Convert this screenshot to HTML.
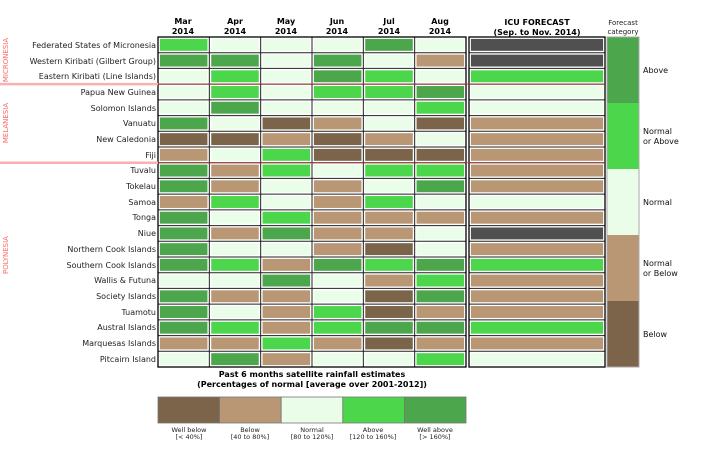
<!DOCTYPE html>
<html><head><meta charset="utf-8"><style>
html,body{margin:0;padding:0;background:#fff;width:710px;height:473px;overflow:hidden}
svg{display:block;font-family:"DejaVu Sans","Liberation Sans",sans-serif}
.rl{font-size:8px;fill:#222;text-anchor:end}
.hd{font-size:8px;font-weight:bold;fill:#000;text-anchor:middle}
.rg{font-size:7px;fill:#f66;text-anchor:middle}
.ct{font-size:8px;fill:#111}
.lg{font-size:6.5px;fill:#222;text-anchor:middle}
</style></head><body>
<svg id="s" width="710" height="473" viewBox="0 0 710 473">
<g id="cells"></g>
<text class="hd" x="183" y="24">Mar</text><text class="hd" x="183" y="34">2014</text>
<text class="hd" x="235" y="24">Apr</text><text class="hd" x="235" y="34">2014</text>
<text class="hd" x="286" y="24">May</text><text class="hd" x="286" y="34">2014</text>
<text class="hd" x="337" y="24">Jun</text><text class="hd" x="337" y="34">2014</text>
<text class="hd" x="389" y="24">Jul</text><text class="hd" x="389" y="34">2014</text>
<text class="hd" x="440" y="24">Aug</text><text class="hd" x="440" y="34">2014</text>
<text class="hd" x="537" y="25">ICU FORECAST</text><text class="hd" x="537" y="35">(Sep. to Nov. 2014)</text>
<text x="623" y="25" style="font-size:7px;text-anchor:middle;fill:#222">Forecast</text>
<text x="623" y="34" style="font-size:7px;text-anchor:middle;fill:#222">category</text>
<text class="rl" x="156" y="48">Federated States of Micronesia</text>
<text class="rl" x="156" y="64">Western Kiribati (Gilbert Group)</text>
<text class="rl" x="156" y="79">Eastern Kiribati (Line Islands)</text>
<text class="rl" x="156" y="95">Papua New Guinea</text>
<text class="rl" x="156" y="111">Solomon Islands</text>
<text class="rl" x="156" y="126">Vanuatu</text>
<text class="rl" x="156" y="142">New Caledonia</text>
<text class="rl" x="156" y="158">Fiji</text>
<text class="rl" x="156" y="173">Tuvalu</text>
<text class="rl" x="156" y="189">Tokelau</text>
<text class="rl" x="156" y="205">Samoa</text>
<text class="rl" x="156" y="220">Tonga</text>
<text class="rl" x="156" y="236">Niue</text>
<text class="rl" x="156" y="252">Northern Cook Islands</text>
<text class="rl" x="156" y="268">Southern Cook Islands</text>
<text class="rl" x="156" y="283">Wallis &amp; Futuna</text>
<text class="rl" x="156" y="299">Society Islands</text>
<text class="rl" x="156" y="315">Tuamotu</text>
<text class="rl" x="156" y="330">Austral Islands</text>
<text class="rl" x="156" y="346">Marquesas Islands</text>
<text class="rl" x="156" y="362">Pitcairn Island</text>
<text class="rg" transform="translate(8,60) rotate(-90)">MICRONESIA</text>
<text class="rg" transform="translate(8,123) rotate(-90)">MELANESIA</text>
<text class="rg" transform="translate(8,255) rotate(-90)">POLYNESIA</text>
<text class="ct" x="643" y="73">Above</text>
<text class="ct" x="643" y="134">Normal</text><text class="ct" x="643" y="144">or Above</text>
<text class="ct" x="643" y="205">Normal</text>
<text class="ct" x="643" y="266">Normal</text><text class="ct" x="643" y="276">or Below</text>
<text class="ct" x="643" y="337">Below</text>
<text class="hd" x="312" y="377">Past 6 months satellite rainfall estimates</text>
<text class="hd" x="312" y="387">(Percentages of normal [average over 2001-2012])</text>
<text class="lg" x="189" y="432">Well below</text><text class="lg" x="189" y="439">[&lt; 40%]</text>
<text class="lg" x="250" y="432">Below</text><text class="lg" x="250" y="439">[40 to 80%]</text>
<text class="lg" x="312" y="432">Normal</text><text class="lg" x="312" y="439">[80 to 120%]</text>
<text class="lg" x="373" y="432">Above</text><text class="lg" x="373" y="439">[120 to 160%]</text>
<text class="lg" x="435" y="432">Well above</text><text class="lg" x="435" y="439">[&gt; 160%]</text>
</svg>
<script>
var C={W:"#7b6449",B:"#b99674",N:"#eafde9",A:"#4cd64c",G:"#4ba64c",D:"#505050"};
var rows=["ANNNGND","GGNGNBD","NANGANA","NANAAGN","NGNNNAN","GNWBNWB","WWBWBNB","BNAWWWB","GBANAAB","GBNBNGB","BANBANN","GNABBBB","GBGBBND","GNNBWNB","GABGAGA","NNGNBAB","GBBNWGB","GNBAWBB","GABAGGA","BBABWBB","NGBNNAN"];
var g=document.getElementById("cells"),ns="http://www.w3.org/2000/svg",h="";
var y0=37,rh=330/21,x0=158,cw=308/6;
function r(x,y,w,hh,f,st,sw){return '<rect x="'+x+'" y="'+y+'" width="'+w+'" height="'+hh+'" fill="'+f+'"'+(st?' stroke="'+st+'" stroke-width="'+(sw||1)+'"':'')+'/>';}
h+=r(x0,y0,308,330,"#fff");h+=r(469,y0,136,330,"#fff");
for(var i=0;i<21;i++){var y=y0+i*rh;
 for(var j=0;j<6;j++){var c=C[rows[i][j]];h+=r(x0+j*cw+1.5,y+1.5,cw-3,rh-3,c,"#fff",0.8);}
 h+=r(470.5,y+1.5,133,rh-3,C[rows[i][6]],"#fff",0.8);}
for(var i=1;i<21;i++){var y=y0+i*rh;h+='<line x1="158" x2="466" y1="'+y+'" y2="'+y+'" stroke="#222" stroke-width="1"/><line x1="469" x2="605" y1="'+y+'" y2="'+y+'" stroke="#222" stroke-width="1"/>';}
for(var j=1;j<6;j++){var x=x0+j*cw;h+='<line x1="'+x+'" x2="'+x+'" y1="37" y2="367" stroke="#222" stroke-width="1"/>';}
h+=r(x0,y0,308,330,"none","#000",1.3);h+=r(469,y0,136,330,"none","#000",1.3);
[84.1,162.7].forEach(function(y){h+='<line x1="0" x2="158" y1="'+y+'" y2="'+y+'" stroke="#f8b0b0" stroke-width="2.5"/><line x1="158" x2="605" y1="'+y+'" y2="'+y+'" stroke="#b04040" stroke-width="1.2" opacity="0.8"/>';});
var cat=["G","A","N","B","W"];
for(var k=0;k<5;k++)h+=r(607,37+k*66,32,66,C[cat[k]]);
h+=r(607,37,32,330,"none","#aaa",1);
var lc=["W","B","N","A","G"];
for(var k=0;k<5;k++)h+=r(158+k*61.6,397,61.6,26,C[lc[k]],"#777",0.8);
g.innerHTML=h;
</script>
</body></html>
